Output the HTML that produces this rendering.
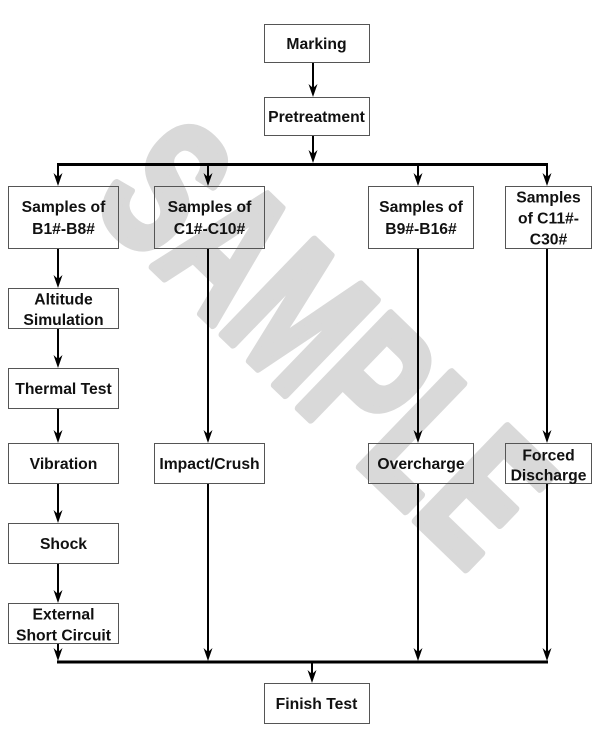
<!DOCTYPE html>
<html><head><meta charset="utf-8"><style>
html,body{margin:0;padding:0;background:#fff;}
svg{display:block;}
text{font-family:"Liberation Sans",Arial,sans-serif;}
</style></head><body>
<svg width="600" height="733" viewBox="0 0 600 733" xmlns="http://www.w3.org/2000/svg">
<rect width="600" height="733" fill="#fff"/>
<!-- watermark -->
<text x="327" y="408" transform="rotate(44 327 340)" font-weight="bold" font-size="190" fill="#d9d9d9" stroke="#d9d9d9" stroke-width="9" stroke-linejoin="round" text-anchor="middle" textLength="530" lengthAdjust="spacingAndGlyphs">SAMPLE</text>

<g fill="none" stroke="#555" stroke-width="1">
<rect x="264.5" y="24.5" width="105" height="38"/>
<rect x="264.5" y="97.5" width="105" height="38"/>
<rect x="8.5" y="186.5" width="110" height="62"/>
<rect x="154.5" y="186.5" width="110" height="62"/>
<rect x="368.5" y="186.5" width="105" height="62"/>
<rect x="505.5" y="186.5" width="86" height="62"/>
<rect x="8.5" y="288.5" width="110" height="40"/>
<rect x="8.5" y="368.5" width="110" height="40"/>
<rect x="8.5" y="443.5" width="110" height="40"/>
<rect x="154.5" y="443.5" width="110" height="40"/>
<rect x="368.5" y="443.5" width="105" height="40"/>
<rect x="505.5" y="443.5" width="86" height="40"/>
<rect x="8.5" y="523.5" width="110" height="40"/>
<rect x="8.5" y="603.5" width="110" height="40"/>
<rect x="264.5" y="683.5" width="105" height="40"/>
</g>

<g stroke="#000" stroke-width="2" fill="none">
<line x1="313" y1="63" x2="313" y2="89"/>
<line x1="313" y1="136" x2="313" y2="156"/>
<line x1="57" y1="164.5" x2="548" y2="164.5" stroke-width="3"/>
<line x1="58" y1="164" x2="58" y2="178"/>
<line x1="208" y1="164" x2="208" y2="178"/>
<line x1="418" y1="164" x2="418" y2="178"/>
<line x1="547" y1="164" x2="547" y2="178"/>
<line x1="58" y1="249" x2="58" y2="280"/>
<line x1="58" y1="329" x2="58" y2="360"/>
<line x1="58" y1="409" x2="58" y2="435"/>
<line x1="58" y1="484" x2="58" y2="515"/>
<line x1="58" y1="564" x2="58" y2="595"/>
<line x1="58" y1="644" x2="58" y2="653"/>
<line x1="208" y1="249" x2="208" y2="435"/>
<line x1="208" y1="484" x2="208" y2="653"/>
<line x1="418" y1="249" x2="418" y2="435"/>
<line x1="418" y1="484" x2="418" y2="653"/>
<line x1="547" y1="249" x2="547" y2="435"/>
<line x1="547" y1="484" x2="547" y2="653"/>
<line x1="57" y1="662" x2="548" y2="662" stroke-width="3"/>
<line x1="312" y1="662" x2="312" y2="675"/>
</g>

<g fill="#000">
<path d="M313,97 L308.5,84 L313,88 L317.5,84 Z"/>
<path d="M313,163 L308.5,150 L313,154 L317.5,150 Z"/>
<path d="M58,186 L53.5,173 L58,177 L62.5,173 Z"/>
<path d="M208,186 L203.5,173 L208,177 L212.5,173 Z"/>
<path d="M418,186 L413.5,173 L418,177 L422.5,173 Z"/>
<path d="M547,186 L542.5,173 L547,177 L551.5,173 Z"/>
<path d="M58,288 L53.5,275 L58,279 L62.5,275 Z"/>
<path d="M58,368 L53.5,355 L58,359 L62.5,355 Z"/>
<path d="M58,443 L53.5,430 L58,434 L62.5,430 Z"/>
<path d="M58,523 L53.5,510 L58,514 L62.5,510 Z"/>
<path d="M58,603 L53.5,590 L58,594 L62.5,590 Z"/>
<path d="M58,661 L53.5,648 L58,652 L62.5,648 Z"/>
<path d="M208,443 L203.5,430 L208,434 L212.5,430 Z"/>
<path d="M418,443 L413.5,430 L418,434 L422.5,430 Z"/>
<path d="M547,443 L542.5,430 L547,434 L551.5,430 Z"/>
<path d="M208,661 L203.5,648 L208,652 L212.5,648 Z"/>
<path d="M418,661 L413.5,648 L418,652 L422.5,648 Z"/>
<path d="M547,661 L542.5,648 L547,652 L551.5,648 Z"/>
<path d="M312,683 L307.5,670 L312,674 L316.5,670 Z"/>
</g>

<g font-weight="bold" font-size="15.7" fill="#111" text-anchor="middle">
<text x="316.5" y="49">Marking</text>
<text x="316.5" y="122">Pretreatment</text>
<text x="63.5" y="212">Samples of</text>
<text x="63.5" y="234">B1#-B8#</text>
<text x="209.5" y="212">Samples of</text>
<text x="209.5" y="234">C1#-C10#</text>
<text x="421" y="212">Samples of</text>
<text x="421" y="234">B9#-B16#</text>
<text x="548.5" y="202.5">Samples</text>
<text x="548.5" y="223.5">of C11#-</text>
<text x="548.5" y="244.5">C30#</text>
<text x="63.5" y="304.5">Altitude</text>
<text x="63.5" y="325">Simulation</text>
<text x="63.5" y="394">Thermal Test</text>
<text x="63.5" y="469">Vibration</text>
<text x="209.5" y="469">Impact/Crush</text>
<text x="421" y="469">Overcharge</text>
<text x="548.5" y="460.5">Forced</text>
<text x="548.5" y="480.5">Discharge</text>
<text x="63.5" y="549">Shock</text>
<text x="63.5" y="619.5">External</text>
<text x="63.5" y="640.5">Short Circuit</text>
<text x="316.5" y="709">Finish Test</text>
</g>
</svg>
</body></html>
